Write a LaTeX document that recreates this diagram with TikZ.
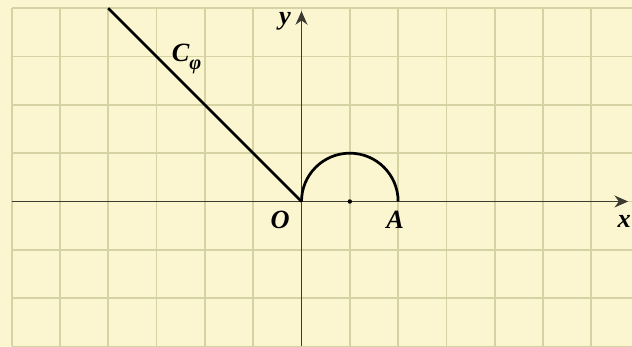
\documentclass[tikz,border=0pt]{standalone}
\usepackage{fontspec}
\setmainfont{Liberation Serif}
\usetikzlibrary{arrows.meta}
\definecolor{paper}{HTML}{FBF6CF}
\definecolor{gridline}{HTML}{D5D2A3}
\definecolor{axisgray}{HTML}{3A3A32}
\tikzset{
  lbl/.style={font=\fontsize{15.5}{17}\selectfont\bfseries\itshape, inner sep=1pt},
  curve/.style={line width=1.6pt, black},
  axis/.style={axisgray, line width=0.8pt, -{Stealth[length=8pt,width=7pt,inset=2.5pt]}}
}
\newcommand{\subphi}{\raisebox{-4.5pt}{\fontsize{12}{13}\selectfont φ}}
\begin{document}
\begin{tikzpicture}
		  \fill[paper] (-6.24,-3.01) rectangle (6.84,4.17);
		  \useasboundingbox (-6.24,-3.01) rectangle (6.84,4.17);
		  \draw[gridline, line width=1.1pt] (-6,-3) grid (6.84,4);
		  
		  \coordinate (O) at (0,0);
		  \coordinate (M) at (1,0);
		  \coordinate (A) at (2,0);
		  \coordinate (P) at (-4,4);
		  \coordinate (xs) at (-6,0);
		  \coordinate (xe) at (6.76,0);
		  \coordinate (ys) at (0,-3);
		  \coordinate (ye) at (0,3.94);
		  
		  \draw[axis] (xs) -- (xe);
		  \draw[axis] (ys) -- (ye);
		  \draw[curve] (O) -- (P);
		  \draw[curve] (O) arc[start angle=180, end angle=0, radius=1];
		  \fill (M) circle (1.3pt);
		  
		  \node[lbl] (lo) at (-0.44,-0.38) {O};
		  \node[lbl] (la) at (1.94,-0.38) {A};
		  \node[lbl] (ly) at (-0.34,3.72) {y};
		  \node[lbl] (lx) at (6.68,-0.42) {x};
		  \node[lbl] (lc) at (-2.38,2.95) {C\subphi};
		\end{tikzpicture}
\end{document}
